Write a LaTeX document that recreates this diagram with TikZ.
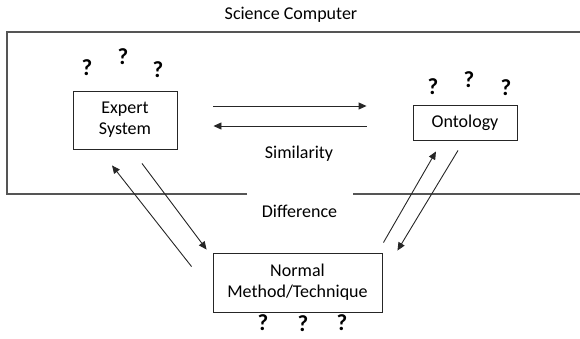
\documentclass[tikz,border=0pt]{standalone}
\usepackage{fontspec}
\setmainfont{Carlito}
\usetikzlibrary{positioning, arrows.meta, calc}
\definecolor{fGray}{HTML}{555555}

\begin{document}
\begin{tikzpicture}[x=1pt, y=-1pt,
  box/.style={draw=black!85, line width=0.9pt, align=center, inner sep=0pt,
              font=\fontsize{18}{21}\selectfont},
  lbl/.style={font=\fontsize{18}{21}\selectfont, inner sep=0pt},
  qmark/.style={font=\fontsize{23}{23}\selectfont\bfseries, inner sep=0pt},
  frame/.style={draw=fGray, line width=1.3pt},
  link/.style={draw=black!85, line width=0.9pt, -{Triangle[length=8pt, width=7pt]}},
]
  \useasboundingbox (0,0) rectangle (580,338);
  \node[lbl] (title) at (291,15) {Science Computer};
  \draw[frame] (247,194) -- (7,194) -- (7,32) -- (580,32);
  \draw[frame] (353,194) -- (580,194);

  \node[box, minimum width=104, minimum height=58] (expert) at (125,120) {Expert\\System};
  \node[box, minimum width=104, minimum height=35] (onto) at (465,122.5) {Ontology};
  \node[box, minimum width=169, minimum height=59] (normal) at (297.5,282.5)
    {Normal\\Method/Technique};
  \node[lbl] (sim) at (299,154) {Similarity};
  \node[lbl] (diff) at (299.5,211) {Difference};

  % question marks
  \node[qmark] (qe1) at (87,68) {?};
  \node[qmark] (qe2) at (123,57) {?};
  \node[qmark] (qe3) at (158,70) {?};
  \node[qmark] (qo1) at (433,87) {?};
  \node[qmark] (qo2) at (469,80) {?};
  \node[qmark] (qo3) at (506,88) {?};
  \node[qmark] (qn1) at (263,323) {?};
  \node[qmark] (qn2) at (303,324) {?};
  \node[qmark] (qn3) at (342,323) {?};

  % arrows
  \draw[link, shorten <=36pt, shorten >=46pt]
    ([yshift=14pt]expert.east) -- ([yshift=14pt]expert.east -| onto.west);
  \draw[link, shorten <=46pt, shorten >=36pt]
    ([yshift=-6pt]expert.east -| onto.west) -- ([yshift=-6pt]expert.east);
  \draw[link] ([xshift=-21pt,yshift=-14pt]normal.north west)
    -- ([xshift=-13pt,yshift=-16pt]expert.south);
  \draw[link] ([xshift=17pt,yshift=-14pt]expert.south)
    -- ([xshift=-6pt,yshift=3pt]normal.north west);
  \draw[link] ([xshift=1pt,yshift=10pt]normal.north east)
    -- ([xshift=-29pt,yshift=-11pt]onto.south);
  \draw[link] ([xshift=-7pt,yshift=-10pt]onto.south)
    -- ([xshift=15pt,yshift=2pt]normal.north east);
\end{tikzpicture}
\end{document}
